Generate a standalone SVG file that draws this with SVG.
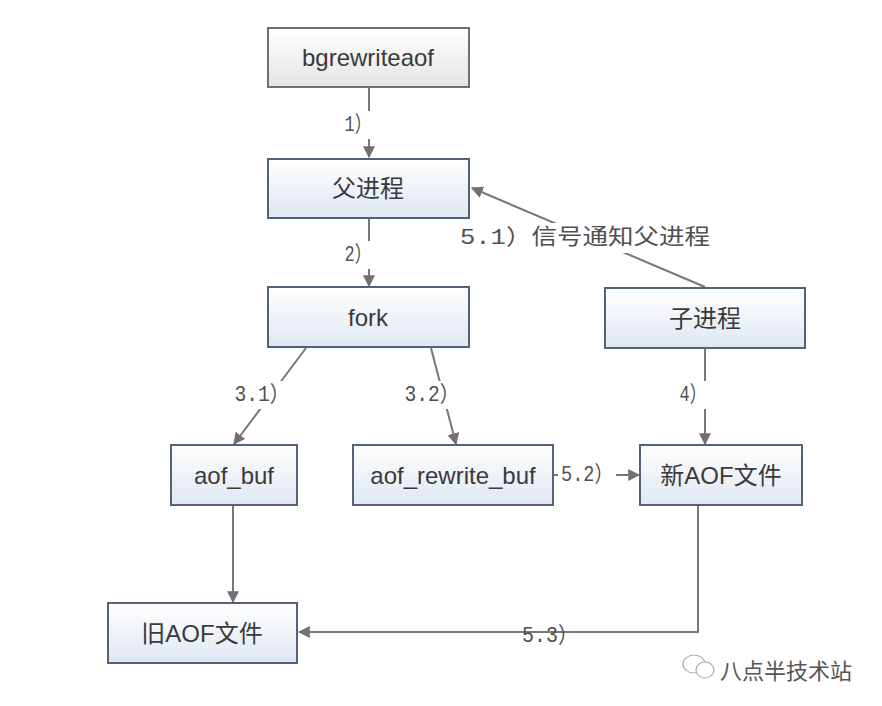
<svg xmlns="http://www.w3.org/2000/svg" width="882" height="706" viewBox="0 0 882 706">
<defs>
<linearGradient id="gb" x1="0" y1="0" x2="0" y2="1"><stop offset="0" stop-color="#ffffff"/><stop offset="1" stop-color="#dfe7f1"/></linearGradient>
<linearGradient id="gg" x1="0" y1="0" x2="0" y2="1"><stop offset="0" stop-color="#ffffff"/><stop offset="1" stop-color="#e4e4e4"/></linearGradient>
<marker id="ar" viewBox="0 0 10 10" refX="9" refY="5" markerWidth="12" markerHeight="12" markerUnits="userSpaceOnUse" orient="auto"><path d="M0,0 L10,5 L0,10 z" fill="#707070"/></marker>
<style>
.box{fill:url(#gb);stroke:#536275;stroke-width:2}
.gbox{fill:url(#gg);stroke:#707070;stroke-width:2}
.t{font-family:"Liberation Sans","Noto Sans CJK SC",sans-serif;font-size:24px;fill:#3a3a3a;text-anchor:middle;dominant-baseline:central}
.l{font-family:"Liberation Mono","Noto Sans CJK SC",monospace;font-size:22px;fill:#505050;text-anchor:middle;dominant-baseline:central}
.c{fill:none;stroke:#777;stroke-width:2;marker-end:url(#ar)}
</style>
</defs>
<rect width="882" height="706" fill="#fff"/>
<g id="connectors">
<line class="c" x1="369" y1="87" x2="369" y2="157"/>
<line class="c" x1="369" y1="219" x2="369" y2="286"/>
<line class="c" x1="705" y1="287" x2="472" y2="188"/>
<line class="c" x1="306" y1="348" x2="234" y2="444"/>
<line class="c" x1="431" y1="348" x2="456" y2="444"/>
<line class="c" x1="705" y1="349" x2="705" y2="444"/>
<line class="c" x1="554" y1="475" x2="639" y2="475"/>
<line class="c" x1="233" y1="505" x2="233" y2="602"/>
<polyline class="c" points="698,505 698,632 299,632"/>
<rect x="343" y="111" width="32" height="28" fill="#fff"/>
<text class="l" x="358" y="125" textLength="27" lengthAdjust="spacingAndGlyphs">1）</text>
<rect x="343" y="241" width="32" height="28" fill="#fff"/>
<text class="l" x="358" y="255" textLength="27" lengthAdjust="spacingAndGlyphs">2）</text>
<rect x="456" y="223" width="258" height="30" fill="#fff"/>
<text class="l" x="585" y="238" textLength="250" lengthAdjust="spacingAndGlyphs">5.1）信号通知父进程</text>
<rect x="231" y="381" width="62" height="28" fill="#fff"/>
<text class="l" x="262" y="395" textLength="55" lengthAdjust="spacingAndGlyphs">3.1）</text>
<rect x="401" y="381" width="62" height="28" fill="#fff"/>
<text class="l" x="432" y="395" textLength="55" lengthAdjust="spacingAndGlyphs">3.2）</text>
<rect x="677" y="381" width="32" height="28" fill="#fff"/>
<text class="l" x="693" y="395" textLength="27" lengthAdjust="spacingAndGlyphs">4）</text>
<rect x="558" y="461" width="58" height="28" fill="#fff"/>
<text class="l" x="587" y="475" textLength="52" lengthAdjust="spacingAndGlyphs">5.2）</text>
<text class="l" x="550" y="636" textLength="56" lengthAdjust="spacingAndGlyphs">5.3）</text>
</g>
<g id="n-bgrewriteaof"><rect class="gbox" x="268" y="28" width="201" height="59"/><text class="t" x="368" y="57">bgrewriteaof</text></g>
<g id="n-parent"><rect class="box" x="268" y="159" width="201" height="59"/><text class="t" x="368" y="188">父进程</text></g>
<g id="n-fork"><rect class="box" x="268" y="287" width="201" height="60"/><text class="t" x="368" y="317">fork</text></g>
<g id="n-child"><rect class="box" x="605" y="288" width="200" height="60"/><text class="t" x="705" y="318">子进程</text></g>
<g id="n-aofbuf"><rect class="box" x="171" y="445" width="126" height="60"/><text class="t" x="234" y="475">aof_buf</text></g>
<g id="n-aofrewritebuf"><rect class="box" x="353" y="445" width="200" height="60"/><text class="t" x="453" y="475">aof_rewrite_buf</text></g>
<g id="n-newaof"><rect class="box" x="640" y="445" width="162" height="60"/><text class="t" x="721" y="475">新AOF文件</text></g>
<g id="n-oldaof"><rect class="box" x="108" y="603" width="189" height="60"/><text class="t" x="202" y="633">旧AOF文件</text></g>
<g id="watermark">
<ellipse cx="694" cy="664" rx="11" ry="9" fill="none" stroke="#aaa" stroke-width="1.2"/>
<ellipse cx="705" cy="670" rx="9" ry="8" fill="#fff" stroke="#aaa" stroke-width="1.2"/>
<text x="720" y="669" font-family="Noto Sans CJK SC, sans-serif" font-size="22" fill="#555" dominant-baseline="central">八点半技术站</text>
</g>
</svg>
